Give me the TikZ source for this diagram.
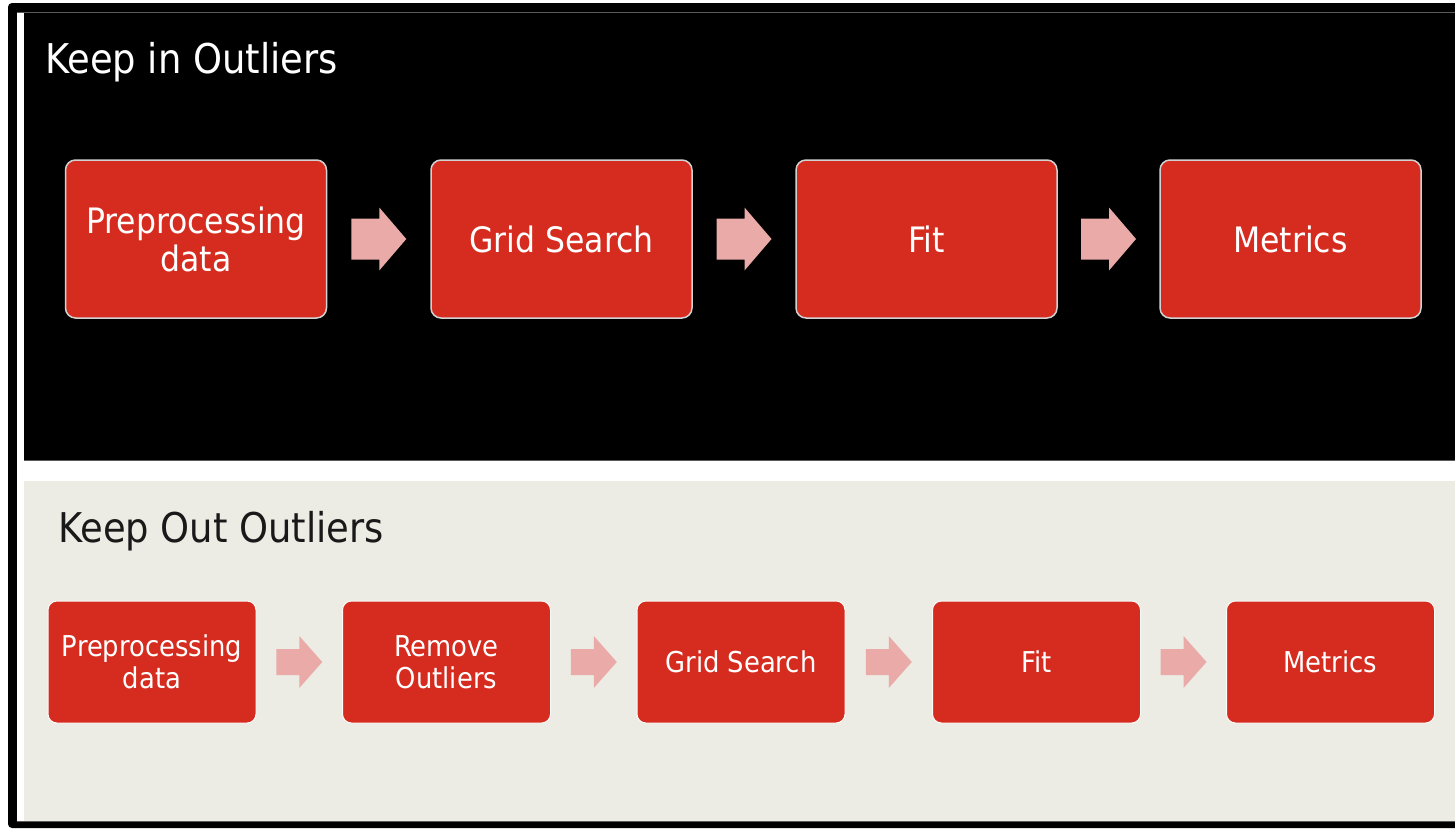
\documentclass[tikz,border=0pt]{standalone}
\usepackage{fontspec}
\setmainfont{DejaVu Sans Condensed}
\usetikzlibrary{calc}
\definecolor{stepred}{RGB}{214,44,31}
\definecolor{arrowpink}{RGB}{233,170,168}
\definecolor{paneltan}{RGB}{236,235,228}
\definecolor{rimgray}{RGB}{90,90,90}
\tikzset{
  bigbox/.style={draw=gray!35, line width=1.5pt, fill=stepred, rounded corners=10pt,
    minimum width=261pt, minimum height=158pt, inner sep=0pt, align=center,
    text=white, font=\fontsize{35}{38}\selectfont},
  smallbox/.style={draw=white!85!paneltan, line width=1pt, fill=stepred, rounded corners=9pt,
    minimum width=208pt, minimum height=122pt, inner sep=0pt, align=center,
    text=white, font=\fontsize{28.7}{32}\selectfont},
  title/.style={anchor=base west, inner sep=0pt, font=\fontsize{41}{41}\selectfont}
}
% block arrow centred halfway between two boxes:
% #1,#2 boxes, #3 half length, #4 shaft half height, #5 head half height, #6 head length
\newcommand\blockarrow[6]{%
  \coordinate (mid-#1-#2) at ($(#1.east)!0.5!(#2.west)$);
  \fill[arrowpink, shift={(mid-#1-#2)}]
    (-#3,-#4) -- ({#3-#6},-#4) -- ({#3-#6},-#5) -- (#3,0) -- ({#3-#6},#5)
    -- ({#3-#6},#4) -- (-#3,#4) -- cycle;}
\begin{document}
\begin{tikzpicture}[x=1pt, y=-1pt]
  \useasboundingbox (0,0) rectangle (1455,828);
  \fill[white] (0,0) rectangle (1455,828);
  % outer black frame
  \fill[black, rounded corners=4pt] (8,3) rectangle (1460,828);
  \fill[white] (17,12) rectangle (1455,822);
  % upper panel
  \fill[black] (24,12) rectangle (1455,460);
  \draw[rimgray, line width=1pt] (17,12.5) -- (1455,12.5);
  \draw[rimgray, line width=1pt] (24,460) -- (1455,460);
  % lower panel
  \fill[paneltan] (24,481) rectangle (1455,821);
  \draw[rimgray, line width=1pt] (17,821) -- (1455,821);

  % upper flow
  \node[title, text=white] (t1) at (45,73) {Keep in Outliers};
  \node[bigbox] (a1) at (196,239) {Preprocessing\\data};
  \node[bigbox] (a2) at (561.5,239) {Grid Search};
  \node[bigbox] (a3) at (926.5,239) {Fit};
  \node[bigbox] (a4) at (1290.5,239) {Metrics};
  \blockarrow{a1}{a2}{27.5}{20.5}{31.5}{27}
  \blockarrow{a2}{a3}{27.5}{20.5}{31.5}{27}
  \blockarrow{a3}{a4}{27.5}{20.5}{31.5}{27}

  % lower flow
  \node[title, text=black!90] (t2) at (58,542) {Keep Out Outliers};
  \node[smallbox] (b1) at (152,662) {Preprocessing\\data};
  \node[smallbox] (b2) at (446.5,662) {Remove\\Outliers};
  \node[smallbox] (b3) at (741,662) {Grid Search};
  \node[smallbox] (b4) at (1036.5,662) {Fit};
  \node[smallbox] (b5) at (1330.5,662) {Metrics};
  \blockarrow{b1}{b2}{23}{13}{26}{23}
  \blockarrow{b2}{b3}{23}{13}{26}{23}
  \blockarrow{b3}{b4}{23}{13}{26}{23}
  \blockarrow{b4}{b5}{23}{13}{26}{23}
\end{tikzpicture}
\end{document}
